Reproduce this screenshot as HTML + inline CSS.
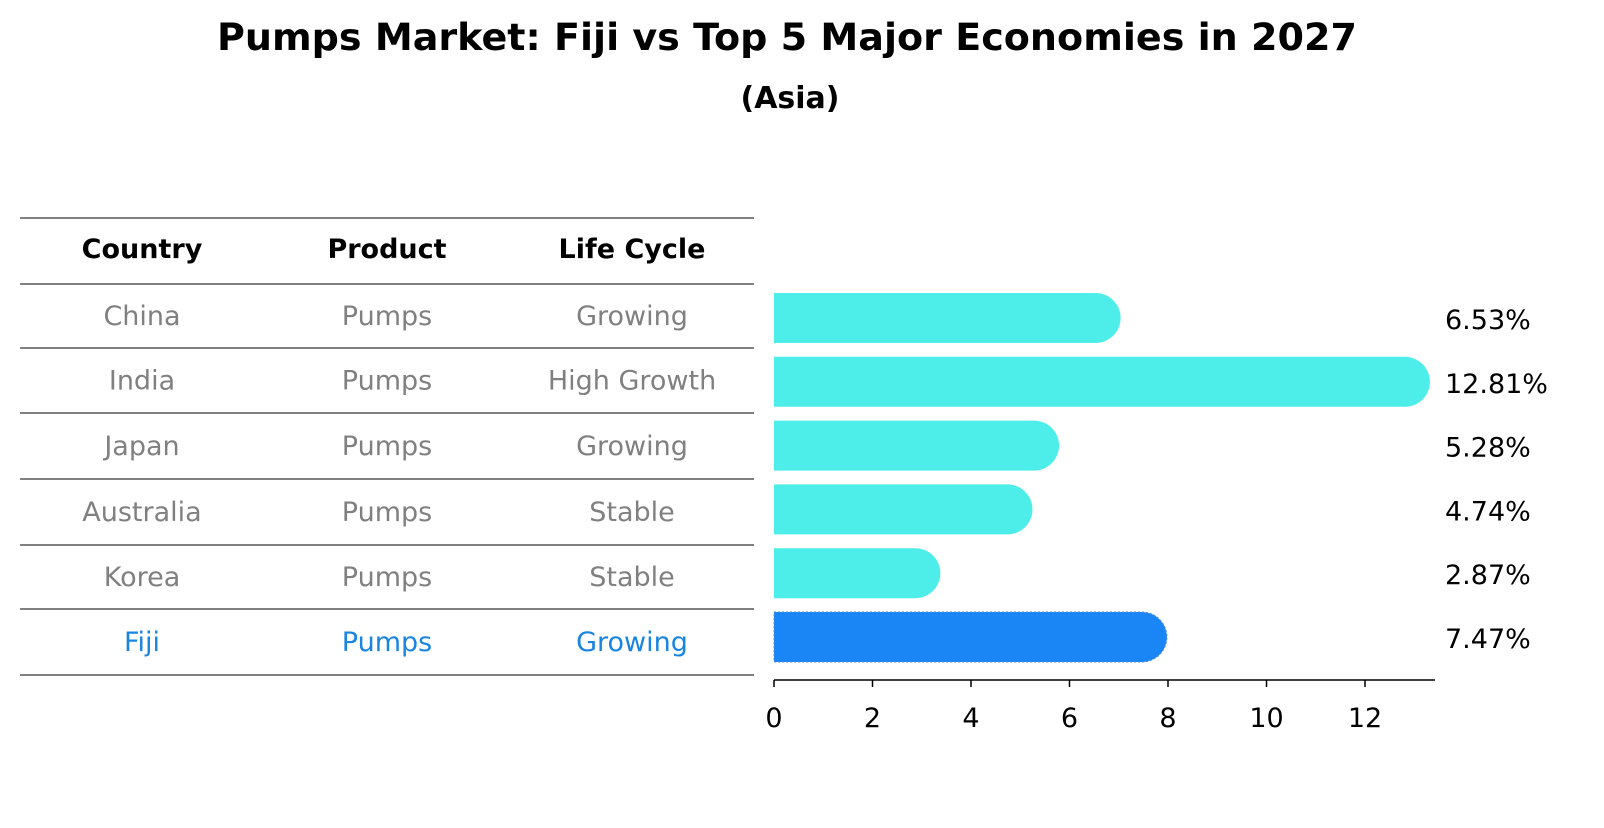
<!DOCTYPE html>
<html><head><meta charset="utf-8"><style>
body{margin:0;background:#fff;font-family:"Liberation Sans","DejaVu Sans",sans-serif}
</style></head><body>
<svg width="1604" height="823" viewBox="0 0 1604 823" xmlns="http://www.w3.org/2000/svg" font-family="DejaVu Sans, Liberation Sans, sans-serif">
<text x="787" y="50" text-anchor="middle" font-size="37" font-weight="bold" textLength="1140" lengthAdjust="spacingAndGlyphs">Pumps Market: Fiji vs Top 5 Major Economies in 2027</text>
<text x="790" y="108" text-anchor="middle" font-size="30" font-weight="bold">(Asia)</text>
<g id="table"></g>
<g id="chart"></g>
</svg>
<script>
const countries=["China","India","Japan","Australia","Korea","Fiji"];
const products=["Pumps","Pumps","Pumps","Pumps","Pumps","Pumps"];
const lifecycles=["Growing","High Growth","Growing","Stable","Stable","Growing"];
const values=[6.53,12.81,5.28,4.74,2.87,7.47];
const ticks=[0,2,4,6,8,10,12];
const NS="http://www.w3.org/2000/svg";
function mk(tag,attrs,parent,text){const e=document.createElementNS(NS,tag);for(const k in attrs)e.setAttribute(k,attrs[k]);if(text!==undefined)e.textContent=text;parent.appendChild(e);return e;}
const tbl=document.getElementById('table');
const lineYs=[218,284,348,413,479,545,609,675];
lineYs.forEach(y=>{const l=mk('line',{x1:20,x2:754,y1:y,y2:y,stroke:'#000','stroke-width':1},tbl);

});
const colX=[142,387,632];
["Country","Product","Life Cycle"].forEach((h,i)=>{const t=mk('text',{x:colX[i],y:258,'text-anchor':'middle','font-size':27,'font-weight':'bold'},tbl,h);

});
countries.forEach((c,r)=>{const y=(lineYs[r+1]+lineYs[r+2])/2+9;const col=c==="Fiji"?'#1a85e0':'#808080';
[c,products[r],lifecycles[r]].forEach((v,i)=>{const t=mk('text',{x:colX[i],y:y,'text-anchor':'middle','font-size':27,fill:col},tbl,v);

});});
const ch=document.getElementById('chart');
const x0=774,unit=49.25;
const xs=v=>x0+v*unit;
const yc=i=>318+i*63.8;
values.forEach((v,i)=>{const y=yc(i),h=50,r=25;const fiji=countries[i]==="Fiji";const col=fiji?'#1a85f5':'#4deeea';
const w=Math.max(0,xs(v)-x0);
const p=mk('path',{d:`M${x0},${y-h/2} H${x0+w} A${r},${r} 0 0 1 ${x0+w},${y+h/2} H${x0} Z`,fill:col},ch);
if(fiji){p.setAttribute('stroke','#4f8fd8');p.setAttribute('stroke-dasharray','2,2');}


const t=mk('text',{x:1445,y:y+11,'font-size':27},ch,v.toFixed(2)+'%');

});
const ax=mk('line',{x1:x0,x2:1435,y1:680,y2:680,stroke:'#000','stroke-width':1.5},ch);


ticks.forEach(t=>{const tk=mk('line',{x1:xs(t),x2:xs(t),y1:680,y2:687,stroke:'#000','stroke-width':1.5},ch);


const l=mk('text',{x:xs(t),y:727,'text-anchor':'middle','font-size':27},ch,String(t));

});
</script>
</body></html>
